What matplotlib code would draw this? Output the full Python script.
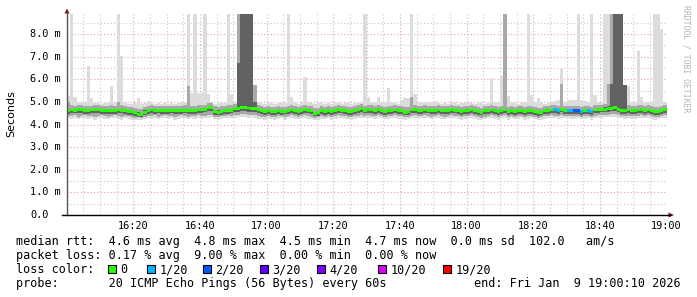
import numpy as np
import matplotlib
matplotlib.use('Agg')
import matplotlib.pyplot as plt
import matplotlib.transforms as mtransforms
from matplotlib.patches import Polygon, Rectangle
from matplotlib.lines import Line2D

W, H = 697, 297

# one sample per minute, 16:00 .. 19:00, values in ms
median = [
    4.62, 4.64, 4.63, 4.66, 4.65, 4.63, 4.62, 4.64, 4.66, 4.64,
    4.62, 4.60, 4.62, 4.63, 4.62, 4.64, 4.63, 4.60, 4.58, 4.56,
    4.52, 4.46, 4.44, 4.55, 4.62, 4.64, 4.62, 4.63, 4.61, 4.60,
    4.62, 4.63, 4.61, 4.60, 4.62, 4.63, 4.62, 4.60, 4.62, 4.64,
    4.66, 4.68, 4.74, 4.76, 4.58, 4.55, 4.58, 4.60, 4.62, 4.63,
    4.70, 4.72, 4.74, 4.74, 4.73, 4.71, 4.70, 4.65, 4.62, 4.58,
    4.60, 4.56, 4.57, 4.60, 4.58, 4.59, 4.62, 4.64, 4.60, 4.58,
    4.62, 4.66, 4.63, 4.60, 4.50, 4.52, 4.60, 4.58, 4.62, 4.57,
    4.62, 4.66, 4.63, 4.62, 4.58, 4.56, 4.60, 4.64, 4.70, 4.63,
    4.66, 4.64, 4.62, 4.65, 4.62, 4.58, 4.60, 4.62, 4.64, 4.60,
    4.62, 4.55, 4.58, 4.64, 4.66, 4.60, 4.62, 4.64, 4.63, 4.60,
    4.62, 4.64, 4.62, 4.60, 4.62, 4.66, 4.63, 4.60, 4.58, 4.60,
    4.62, 4.64, 4.60, 4.58, 4.55, 4.60, 4.62, 4.64, 4.60, 4.58,
    4.62, 4.64, 4.56, 4.62, 4.58, 4.60, 4.62, 4.56, 4.60, 4.62,
    4.58, 4.52, 4.55, 4.60, 4.62, 4.64, 4.66, 4.62, 4.68, 4.62,
    4.62, 4.60, 4.60, 4.62, 4.58, 4.60, 4.62, 4.56, 4.64, 4.66,
    4.68, 4.68, 4.70, 4.72, 4.74, 4.68, 4.62, 4.60, 4.64, 4.62,
    4.60, 4.64, 4.66, 4.62, 4.64, 4.60, 4.56, 4.58, 4.62, 4.66,
]

# smoke: highest / lowest ping and two inner bands
ping_max = [
    5.25, 8.90, 5.20, 5.00, 4.95, 5.00, 6.60, 5.15, 4.95, 4.95,
    4.90, 4.95, 5.00, 5.72, 5.00, 8.90, 7.03, 5.00, 4.90, 4.90,
    4.95, 5.15, 4.90, 4.95, 5.05, 5.00, 4.90, 4.95, 4.90, 4.95,
    4.90, 4.95, 4.90, 4.95, 5.00, 5.00, 8.90, 5.40, 8.90, 5.40,
    5.40, 8.90, 5.35, 5.00, 4.90, 4.95, 5.00, 4.95, 8.90, 5.35,
    5.00, 8.90, 8.90, 8.90, 8.90, 8.90, 5.75, 5.00, 4.95, 4.90,
    4.95, 5.00, 4.90, 4.95, 5.00, 4.95, 8.90, 5.20, 5.00, 4.90,
    4.95, 6.10, 5.00, 4.95, 4.90, 4.95, 5.00, 4.90, 4.95, 4.90,
    4.95, 5.00, 4.90, 4.95, 5.00, 4.90, 4.95, 5.00, 5.00, 8.90,
    5.20, 4.95, 5.00, 5.20, 4.95, 5.00, 5.60, 5.00, 4.95, 4.90,
    5.10, 5.15, 5.15, 8.90, 5.35, 5.00, 4.95, 5.00, 5.00, 5.00,
    5.05, 4.95, 4.90, 4.95, 4.90, 4.95, 5.00, 4.90, 4.95, 4.95,
    5.00, 4.95, 4.90, 4.95, 5.00, 4.90, 4.95, 6.06, 5.00, 5.00,
    6.15, 8.90, 5.25, 5.00, 4.95, 4.90, 4.95, 5.00, 8.90, 5.30,
    5.00, 5.15, 4.95, 4.90, 4.95, 5.00, 5.05, 5.10, 6.47, 5.00,
    5.10, 5.10, 5.10, 8.90, 5.10, 5.05, 5.00, 8.90, 5.30, 5.00,
    5.00, 8.90, 8.90, 8.90, 8.90, 8.90, 8.90, 5.75, 5.70, 5.00,
    5.00, 7.26, 5.20, 5.00, 4.95, 5.00, 8.90, 8.90, 8.23, 5.00,
]
ping_min = [
    4.28, 4.26, 4.30, 4.24, 4.27, 4.30, 4.25, 4.28, 4.22, 4.27,
    4.30, 4.26, 4.24, 4.28, 4.30, 4.25, 4.22, 4.28, 4.26, 4.20,
    4.18, 4.22, 4.20, 4.24, 4.28, 4.26, 4.30, 4.24, 4.27, 4.30,
    4.25, 4.28, 4.22, 4.26, 4.30, 4.27, 4.24, 4.28, 4.25, 4.30,
    4.26, 4.28, 4.30, 4.32, 4.24, 4.22, 4.26, 4.28, 4.30, 4.27,
    4.30, 4.32, 4.34, 4.32, 4.30, 4.32, 4.30, 4.26, 4.24, 4.22,
    4.26, 4.24, 4.20, 4.26, 4.28, 4.22, 4.27, 4.30, 4.25, 4.24,
    4.28, 4.30, 4.26, 4.24, 4.18, 4.22, 4.26, 4.24, 4.28, 4.22,
    4.26, 4.30, 4.28, 4.26, 4.24, 4.20, 4.26, 4.28, 4.30, 4.27,
    4.30, 4.28, 4.25, 4.30, 4.27, 4.24, 4.26, 4.28, 4.30, 4.25,
    4.26, 4.20, 4.24, 4.28, 4.30, 4.26, 4.27, 4.30, 4.28, 4.24,
    4.27, 4.30, 4.26, 4.24, 4.27, 4.30, 4.28, 4.25, 4.22, 4.26,
    4.28, 4.30, 4.25, 4.22, 4.18, 4.24, 4.27, 4.30, 4.26, 4.22,
    4.28, 4.30, 4.22, 4.28, 4.24, 4.26, 4.28, 4.22, 4.26, 4.28,
    4.24, 4.18, 4.20, 4.26, 4.28, 4.30, 4.28, 4.26, 4.30, 4.27,
    4.28, 4.26, 4.26, 4.28, 4.24, 4.26, 4.28, 4.22, 4.28, 4.30,
    4.30, 4.32, 4.32, 4.34, 4.34, 4.30, 4.28, 4.26, 4.28, 4.26,
    4.26, 4.28, 4.30, 4.28, 4.30, 4.26, 4.22, 4.24, 4.28, 4.30,
]
band_hi = [
    5.00, 4.84, 4.82, 4.86, 4.84, 4.82, 4.80, 4.83, 4.86, 4.84,
    4.82, 4.80, 4.82, 4.84, 4.82, 5.00, 4.84, 4.80, 4.78, 4.76,
    4.74, 4.70, 4.68, 4.76, 4.82, 4.84, 4.82, 4.83, 4.81, 4.80,
    4.82, 4.83, 4.81, 4.80, 4.82, 4.84, 5.70, 4.80, 4.82, 4.84,
    4.86, 4.88, 4.94, 4.96, 4.80, 4.78, 4.80, 4.82, 4.84, 4.85,
    4.92, 8.90, 8.90, 8.90, 8.90, 8.90, 5.75, 4.86, 4.82, 4.78,
    4.80, 4.76, 4.77, 4.80, 4.78, 4.79, 4.82, 4.84, 4.80, 4.78,
    4.82, 4.86, 4.83, 4.80, 4.72, 4.74, 4.80, 4.78, 4.82, 4.77,
    4.82, 4.86, 4.83, 4.82, 4.78, 4.76, 4.80, 4.84, 4.90, 4.83,
    4.86, 4.84, 4.82, 4.85, 4.82, 4.78, 4.80, 4.82, 4.84, 4.80,
    4.82, 4.76, 4.78, 5.20, 4.86, 4.80, 4.82, 4.84, 4.83, 4.80,
    4.82, 4.84, 4.82, 4.80, 4.82, 4.86, 4.83, 4.80, 4.78, 4.80,
    4.82, 4.84, 4.80, 4.78, 4.75, 4.80, 4.82, 4.84, 4.80, 4.78,
    4.82, 8.90, 4.76, 4.82, 4.78, 4.80, 4.82, 4.76, 4.80, 4.82,
    4.78, 4.72, 4.75, 4.80, 4.82, 4.84, 4.86, 4.82, 5.80, 4.82,
    4.82, 4.80, 4.80, 4.82, 4.78, 4.80, 4.82, 4.76, 4.84, 4.86,
    4.88, 4.92, 5.80, 8.90, 8.90, 8.90, 8.90, 5.75, 4.84, 4.82,
    4.80, 4.84, 4.86, 4.82, 4.84, 4.80, 4.76, 4.78, 4.82, 4.86,
]
band_lo = [
    4.38, 4.36, 4.40, 4.35, 4.37, 4.40, 4.36, 4.38, 4.34, 4.37,
    4.40, 4.36, 4.35, 4.38, 4.40, 4.36, 4.34, 4.38, 4.36, 4.32,
    4.30, 4.32, 4.30, 4.35, 4.38, 4.36, 4.40, 4.35, 4.37, 4.40,
    4.36, 4.38, 4.34, 4.36, 4.40, 4.37, 4.35, 4.38, 4.36, 4.40,
    4.37, 4.38, 4.42, 4.44, 4.35, 4.33, 4.36, 4.38, 4.40, 4.37,
    4.42, 4.44, 4.46, 4.45, 4.44, 4.44, 4.42, 4.38, 4.35, 4.33,
    4.36, 4.34, 4.32, 4.36, 4.38, 4.34, 4.37, 4.40, 4.36, 4.35,
    4.38, 4.40, 4.36, 4.35, 4.30, 4.32, 4.36, 4.35, 4.38, 4.33,
    4.37, 4.40, 4.38, 4.36, 4.35, 4.32, 4.36, 4.38, 4.42, 4.37,
    4.40, 4.38, 4.36, 4.40, 4.37, 4.35, 4.36, 4.38, 4.40, 4.36,
    4.37, 4.32, 4.35, 4.38, 4.40, 4.36, 4.37, 4.40, 4.38, 4.35,
    4.37, 4.40, 4.36, 4.35, 4.37, 4.40, 4.38, 4.36, 4.33, 4.36,
    4.38, 4.40, 4.36, 4.33, 4.30, 4.35, 4.37, 4.40, 4.36, 4.33,
    4.38, 4.40, 4.33, 4.38, 4.35, 4.36, 4.38, 4.33, 4.36, 4.38,
    4.35, 4.30, 4.32, 4.36, 4.38, 4.40, 4.38, 4.36, 4.40, 4.37,
    4.38, 4.36, 4.36, 4.38, 4.35, 4.36, 4.38, 4.33, 4.38, 4.40,
    4.42, 4.44, 4.44, 4.46, 4.46, 4.42, 4.38, 4.36, 4.38, 4.36,
    4.36, 4.38, 4.40, 4.38, 4.40, 4.36, 4.33, 4.35, 4.38, 4.40,
]
core_hi = [
    4.68, 4.70, 4.69, 4.72, 4.71, 4.69, 4.68, 4.70, 4.72, 4.70,
    4.68, 4.66, 4.68, 4.69, 4.68, 4.70, 4.69, 4.66, 4.64, 4.62,
    4.58, 4.54, 4.52, 4.62, 4.68, 4.70, 4.68, 4.69, 4.67, 4.66,
    4.68, 4.69, 4.67, 4.66, 4.68, 4.70, 4.70, 4.66, 4.68, 4.70,
    4.72, 4.74, 4.80, 4.82, 4.64, 4.62, 4.64, 4.66, 4.68, 4.69,
    4.78, 6.70, 8.90, 8.90, 8.90, 8.90, 5.00, 4.72, 4.68, 4.64,
    4.66, 4.62, 4.63, 4.66, 4.64, 4.65, 4.68, 4.70, 4.66, 4.64,
    4.68, 4.72, 4.69, 4.66, 4.56, 4.58, 4.66, 4.64, 4.68, 4.63,
    4.68, 4.72, 4.69, 4.68, 4.64, 4.62, 4.66, 4.70, 4.76, 4.69,
    4.72, 4.70, 4.68, 4.71, 4.68, 4.64, 4.66, 4.68, 4.70, 4.66,
    4.68, 4.61, 4.64, 4.70, 4.72, 4.66, 4.68, 4.70, 4.69, 4.66,
    4.68, 4.70, 4.68, 4.66, 4.68, 4.72, 4.69, 4.66, 4.64, 4.66,
    4.68, 4.70, 4.66, 4.64, 4.61, 4.66, 4.68, 4.70, 4.66, 4.64,
    4.68, 4.70, 4.62, 4.68, 4.64, 4.66, 4.68, 4.62, 4.66, 4.68,
    4.64, 4.58, 4.61, 4.66, 4.68, 4.70, 4.72, 4.68, 4.74, 4.68,
    4.68, 4.66, 4.66, 4.68, 4.64, 4.66, 4.68, 4.62, 4.70, 4.72,
    4.74, 4.76, 4.80, 5.80, 8.90, 8.90, 8.90, 5.75, 4.70, 4.68,
    4.66, 4.70, 4.72, 4.68, 4.70, 4.66, 4.62, 4.64, 4.68, 4.72,
]
core_lo = [
    4.48, 4.50, 4.49, 4.52, 4.50, 4.48, 4.47, 4.50, 4.52, 4.50,
    4.48, 4.46, 4.48, 4.48, 4.47, 4.50, 4.49, 4.46, 4.44, 4.42,
    4.38, 4.34, 4.32, 4.42, 4.48, 4.50, 4.48, 4.49, 4.47, 4.46,
    4.48, 4.49, 4.47, 4.46, 4.48, 4.49, 4.48, 4.46, 4.48, 4.50,
    4.52, 4.54, 4.58, 4.60, 4.44, 4.42, 4.44, 4.46, 4.48, 4.49,
    4.55, 4.57, 4.58, 4.58, 4.57, 4.56, 4.55, 4.50, 4.48, 4.44,
    4.46, 4.42, 4.43, 4.46, 4.44, 4.45, 4.48, 4.50, 4.46, 4.44,
    4.48, 4.52, 4.49, 4.46, 4.36, 4.38, 4.46, 4.44, 4.48, 4.43,
    4.48, 4.52, 4.49, 4.48, 4.44, 4.42, 4.46, 4.50, 4.56, 4.49,
    4.52, 4.50, 4.48, 4.51, 4.48, 4.44, 4.46, 4.48, 4.50, 4.46,
    4.48, 4.40, 4.44, 4.50, 4.52, 4.46, 4.48, 4.50, 4.49, 4.46,
    4.48, 4.50, 4.48, 4.46, 4.48, 4.52, 4.49, 4.46, 4.44, 4.46,
    4.48, 4.50, 4.46, 4.44, 4.40, 4.46, 4.48, 4.50, 4.46, 4.44,
    4.48, 4.50, 4.42, 4.48, 4.44, 4.46, 4.48, 4.42, 4.46, 4.48,
    4.44, 4.38, 4.40, 4.46, 4.48, 4.50, 4.52, 4.48, 4.54, 4.48,
    4.48, 4.46, 4.46, 4.48, 4.44, 4.46, 4.48, 4.42, 4.50, 4.52,
    4.54, 4.54, 4.56, 4.58, 4.60, 4.54, 4.48, 4.46, 4.50, 4.48,
    4.46, 4.50, 4.52, 4.48, 4.50, 4.46, 4.42, 4.44, 4.48, 4.52,
]

# samples with lost pings (minute index, pings lost out of 20)
loss_minutes = [146, 147, 150, 151, 152, 153, 154, 156, 157]
loss_counts = [1, 1, 1, 1, 2, 2, 1, 1, 1]

loss_keys = [0, 1, 2, 3, 4, 10, 19]
loss_labels = ['0', '1/20', '2/20', '3/20', '4/20', '10/20', '19/20']
loss_hex = ['#26ff00', '#00b8ff', '#0059ff', '#5e00ff', '#7e00ff', '#dd00ff', '#ff0000']

xtick_pos = [20, 40, 60, 80, 100, 120, 140, 160, 180]
xtick_labels = ['16:20', '16:40', '17:00', '17:20', '17:40', '18:00', '18:20', '18:40', '19:00']
ytick_vals = [0, 1, 2, 3, 4, 5, 6, 7, 8]

legend_lines = [
    'median rtt:  4.6 ms avg  4.8 ms max  4.5 ms min  4.7 ms now  0.0 ms sd  102.0   am/s',
    'packet loss: 0.17 % avg  9.00 % max  0.00 % min  0.00 % now',
    'loss color:',
    'probe:       20 ICMP Echo Pings (56 Bytes) every 60s',
]
end_text = 'end: Fri Jan  9 19:00:10 2026'

MONO = 'DejaVu Sans Mono'


def fx(px):
    return px / W


def fy(py):
    return 1 - py / H


fig = plt.figure(figsize=(W / 100, H / 100), dpi=100)
fig.patch.set_facecolor('white')
ax = fig.add_axes([fx(66.5), fy(215), 600 / W, 201 / H])
ax.set_xlim(0, 180)
ax.set_ylim(0, 201 / 22.625)

n = len(median)
edges = np.arange(n + 1)
minutes = np.arange(n)

# smoke
ax.stairs(ping_max, edges, baseline=ping_min, fill=True, color='#dcdcdc', lw=0, zorder=2)
ax.stairs(band_hi, edges, baseline=band_lo, fill=True, color='#a8a8a8', lw=0, zorder=3)
ax.stairs(core_hi, edges, baseline=core_lo, fill=True, color='#626262', lw=0, zorder=4)

# median coloured by loss
loss = np.zeros(n, dtype=int)
loss[loss_minutes] = loss_counts
cmap = dict(zip(loss_keys, loss_hex))
colors = [cmap[v] for v in loss]
ax.bar(minutes, 0.13, bottom=np.array(median) - 0.065, width=1.0, align='edge',
       color=colors, linewidth=0, zorder=5)

# grid
ax.set_xticks(xtick_pos)
ax.set_xticks(np.arange(5, 180, 5), minor=True)
ax.set_yticks(ytick_vals)
ax.set_yticks(np.arange(0.5, 9, 0.5), minor=True)
ax.set_axisbelow(True)
ax.grid(which='minor', color='#c8c8c8', linestyle=(0, (1, 2)), linewidth=0.8)
ax.grid(which='major', color='#eaa0a0', linestyle=(0, (1, 2)), linewidth=0.8)
ax.tick_params(which='both', length=0)
ax.set_xticklabels(xtick_labels, fontsize=7.4, family=MONO)
ax.tick_params(axis='x', pad=4)
ax.set_yticklabels([])
for s in ax.spines.values():
    s.set_visible(False)

# y labels, left aligned like rrdtool
ytr = mtransforms.blended_transform_factory(fig.transFigure, ax.transData)
for v in ytick_vals:
    lab = '0.0' if v == 0 else '%d.0 m' % v
    ax.text(fx(30), v, lab, transform=ytr, ha='left', va='center',
            fontsize=7.4, family=MONO, clip_on=False)

# axes lines and arrows
fig.add_artist(Line2D([fx(67), fx(67)], [fy(215), fy(12)], color='#555555', lw=1))
fig.add_artist(Line2D([fx(62), fx(670)], [fy(215), fy(215)], color='black', lw=1))
fig.add_artist(Polygon([(fx(64.5), fy(13.5)), (fx(69.5), fy(13.5)), (fx(67), fy(8.5))],
                       closed=True, color='#801010', lw=0))
fig.add_artist(Polygon([(fx(668.5), fy(212.5)), (fx(668.5), fy(217.5)), (fx(674), fy(215))],
                       closed=True, color='#801010', lw=0))

fig.text(fx(11), fy(113.5), 'Seconds', rotation=90, ha='center', va='center',
         fontsize=8, family='DejaVu Sans')
fig.text(fx(686), fy(5), 'RRDTOOL / TOBI OETIKER', rotation=270, ha='center', va='top',
         fontsize=5.9, family=MONO, color='#b4b4b4')

# legend block
baselines = [245.5, 259.3, 273.1, 286.9]
for line, yb in zip(legend_lines, baselines):
    fig.text(fx(16), fy(yb), line, ha='left', va='baseline', fontsize=8.5, family=MONO)
fig.text(fx(474.5), fy(baselines[3]), end_text, ha='left', va='baseline', fontsize=8.5, family=MONO)

sq_x = [108, 146.7, 203, 260, 316.7, 378, 442.7]
for x0, col, lab in zip(sq_x, loss_hex, loss_labels):
    fig.add_artist(Rectangle((fx(x0), fy(272.5)), 8 / W, 8 / H, facecolor=col,
                             edgecolor='black', lw=0.8))
    fig.text(fx(x0 + 12.5), fy(baselines[2]), lab, ha='left', va='baseline',
             fontsize=8.5, family=MONO)

fig.savefig('out.png', dpi=100)
